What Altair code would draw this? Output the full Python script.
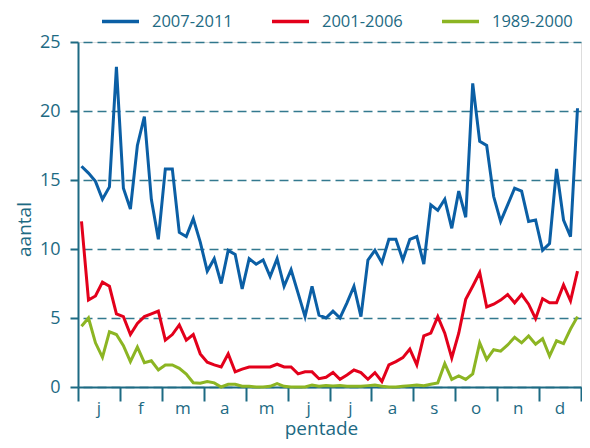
import altair as alt
import pandas as pd

# ---- data (72 pentades) ----
months = ["j", "f", "m", "a", "m", "j", "j", "a", "s", "o", "n", "d"]
series_names = ["2007-2011", "2001-2006", "1989-2000"]
series_colors = ["#0b5fa5", "#e3001b", "#8cb523"]

v2007_2011 = [16.0, 15.5, 14.9, 13.6, 14.5, 23.2, 14.4, 12.9, 17.5, 19.6,
              13.6, 10.7, 15.8, 15.8, 11.2, 10.9, 12.2, 10.5, 8.4, 9.3,
              7.5, 9.9, 9.6, 7.1, 9.3, 8.9, 9.2, 8.0, 9.3, 7.3,
              8.5, 6.8, 5.1, 7.3, 5.2, 5.0, 5.5, 5.0, 6.1, 7.3,
              5.1, 9.2, 9.9, 9.0, 10.7, 10.7, 9.2, 10.7, 10.9, 8.9,
              13.2, 12.8, 13.6, 11.5, 14.2, 12.3, 22.0, 17.8, 17.5, 13.8,
              12.0, 13.2, 14.4, 14.2, 12.0, 12.1, 9.9, 10.4, 15.8, 12.1,
              10.9, 20.2]
v2001_2006 = [12.0, 6.3, 6.6, 7.6, 7.3, 5.3, 5.1, 3.8, 4.6, 5.1,
              5.3, 5.5, 3.4, 3.8, 4.5, 3.4, 3.8, 2.4, 1.8, 1.6,
              1.45, 2.4, 1.1, 1.3, 1.45, 1.45, 1.45, 1.45, 1.65, 1.45,
              1.45, 0.95, 1.1, 1.1, 0.6, 0.7, 1.05, 0.56, 0.87, 1.23,
              1.04, 0.56, 1.04, 0.4, 1.6, 1.84, 2.13, 2.75, 1.6, 3.7,
              3.9, 5.1, 3.9, 2.1, 3.9, 6.35, 7.3, 8.3, 5.8, 6.0,
              6.3, 6.7, 6.1, 6.7, 6.0, 4.95, 6.4, 6.1, 6.1, 7.4,
              6.25, 8.4]
v1989_2000 = [4.4, 5.0, 3.2, 2.15, 4.0, 3.8, 3.0, 1.84, 2.9, 1.76,
              1.9, 1.23, 1.6, 1.6, 1.35, 0.94, 0.31, 0.27, 0.4, 0.3,
              0.0, 0.2, 0.2, 0.05, 0.05, 0.0, 0.0, 0.05, 0.25, 0.05,
              0.0, 0.0, 0.0, 0.15, 0.05, 0.1, 0.07, 0.1, 0.05, 0.05,
              0.05, 0.1, 0.15, 0.05, 0.0, 0.0, 0.05, 0.1, 0.15, 0.1,
              0.2, 0.3, 1.7, 0.55, 0.8, 0.55, 0.95, 3.2, 2.0, 2.7,
              2.6, 3.05, 3.6, 3.2, 3.7, 3.1, 3.5, 2.25, 3.35, 3.15,
              4.2, 5.1]
y_ticks = [0, 5, 10, 15, 20, 25]
month_ticks = [0, 6, 12, 18, 24, 30, 36, 42, 48, 54, 60, 66, 72]

# ---- tables ----
rows = []
for name, vals in zip(series_names, [v2007_2011, v2001_2006, v1989_2000]):
    for i, v in enumerate(vals):
        rows.append({"pentade": i + 0.5, "aantal": v, "reeks": name})
df = pd.DataFrame(rows)
mdf = pd.DataFrame({"pos": [6 * i + 3 for i in range(len(months))], "maand": months})

TEAL = "#1d6a83"
FONT = "Open Sans, Roboto, sans-serif"
W, H = 503, 345

xscale = alt.Scale(domain=[0, 72], nice=False, zero=False)
yscale = alt.Scale(domain=[0, 25], nice=False)

lines = alt.Chart(df).mark_line(strokeWidth=3, strokeJoin="miter").encode(
    x=alt.X("pentade:Q", scale=xscale,
            axis=alt.Axis(values=month_ticks, labels=False, grid=False,
                          tickSize=14, tickWidth=2, tickColor=TEAL,
                          domainColor=TEAL, domainWidth=2,
                          title="pentade", titleFont=FONT, titleFontSize=19,
                          titleFontWeight="normal", titleColor=TEAL,
                          titleX=243, titleY=41, titleBaseline="middle")),
    y=alt.Y("aantal:Q", scale=yscale,
            axis=alt.Axis(values=y_ticks, tickSize=8, tickWidth=2, tickColor=TEAL,
                          domainColor=TEAL, domainWidth=2,
                          grid=True, gridColor=TEAL, gridWidth=1.6,
                          gridDash=[9, 5], gridDashOffset=9, gridOpacity=0.9,
                          labelFont=FONT, labelFontSize=18, labelColor=TEAL,
                          labelPadding=10,
                          title="aantal", titleFont=FONT, titleFontSize=19,
                          titleFontWeight="normal", titleColor=TEAL,
                          titleX=-54, titleY=187, titleBaseline="middle",
                          titleAngle=270)),
    color=alt.Color("reeks:N",
                    scale=alt.Scale(domain=series_names, range=series_colors),
                    sort=series_names,
                    legend=alt.Legend(title=None, orient="none", direction="horizontal",
                                      legendX=22, legendY=-41, symbolType="stroke",
                                      symbolSize=1369, symbolStrokeWidth=3.5,
                                      labelFont=FONT, labelFontSize=16.5,
                                      labelColor=TEAL, labelOffset=11,
                                      columnPadding=32, padding=0)),
    order=alt.Order("pentade:Q"),
)

labels = alt.Chart(mdf).mark_text(font=FONT, fontSize=17, color=TEAL,
                                  baseline="middle", align="center").encode(
    x=alt.X("pos:Q", scale=xscale),
    y=alt.value(H + 22),
    text="maand:N",
)

chart = alt.layer(lines, labels).properties(
    width=W, height=H,
    autosize=alt.AutoSizeParams(type="none"),
    padding={"left": 70, "top": 34, "right": 1, "bottom": 53},
).configure_view(
    fill="#cfe0e6", stroke=TEAL, strokeWidth=2
).configure(background="white")

chart.save("out.html", embed_options={"renderer": "svg", "actions": False})
